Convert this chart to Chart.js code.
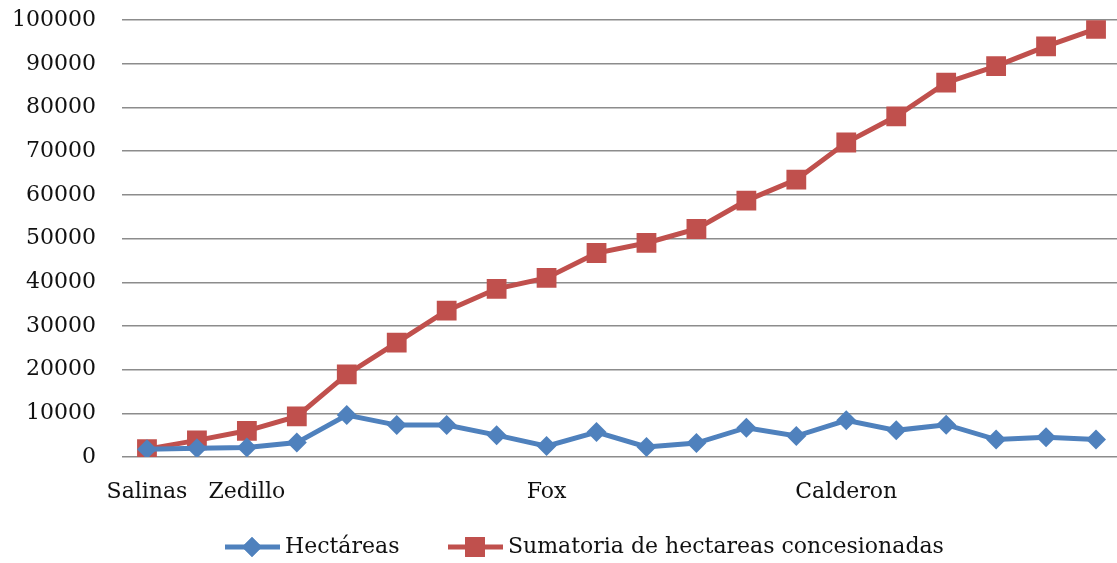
<!DOCTYPE html>
<html>
<head>
<meta charset="utf-8">
<script src="https://cdn.jsdelivr.net/npm/chart.js@4/dist/chart.umd.min.js"></script>
<style>
  html, body { margin: 0; padding: 0; background: #fff; overflow: hidden; }
  #wrap { position: absolute; left: 0; top: -19px; width: 1135px; height: 582px; }
</style>
</head>
<body>
<div id="wrap"><canvas id="chart" width="1135" height="582"></canvas></div>
<script>
// categories (only some periods carry a name)
const periods = ["Salinas", "", "Zedillo", "", "", "", "", "", "Fox", "", "", "", "", "", "Calderon", "", "", "", "", ""];

// series values
const hectareas = [1800, 2000, 2200, 3300, 9600, 7300, 7300, 5000, 2500, 5700, 2300, 3200, 6700, 4800, 8400, 6100, 7400, 4000, 4500, 4000];
const sumatoria = [1800, 3800, 6000, 9300, 18900, 26200, 33500, 38500, 41000, 46700, 49000, 52200, 58700, 63500, 72000, 78000, 85700, 89500, 94000, 98000];

const yTicks = [0, 10000, 20000, 30000, 40000, 50000, 60000, 70000, 80000, 90000, 100000];

const BLUE = "#4F81BD";
const RED = "#C0504D";
const FONT = "'DejaVu Serif', 'Liberation Serif', serif";

// legend drawn by hand: line + marker + text, like the office chart
const lineLegend = {
    id: "lineLegend",
    afterDraw(chart) {
        const ctx = chart.ctx;
        const y = chart.height - 16;
        const items = [
            { x: 225, ds: chart.data.datasets[0] },
            { x: 448, ds: chart.data.datasets[1] }
        ];
        ctx.save();
        items.forEach(it => {
            const ds = it.ds;
            ctx.strokeStyle = ds.borderColor;
            ctx.lineWidth = 5;
            ctx.beginPath();
            ctx.moveTo(it.x, y);
            ctx.lineTo(it.x + 55, y);
            ctx.stroke();
            ctx.fillStyle = ds.borderColor;
            Chart.helpers.drawPoint(ctx, {
                pointStyle: ds.pointStyle,
                radius: ds.pointRadius,
                borderWidth: 0
            }, it.x + 27, y);
            ctx.fill();
            ctx.fillStyle = "#111";
            ctx.font = "22px " + FONT;
            ctx.textBaseline = "middle";
            ctx.textAlign = "left";
            ctx.fillText(ds.label, it.x + 60, y);
        });
        ctx.restore();
    }
};

new Chart(document.getElementById("chart").getContext("2d"), {
    type: "line",
    data: {
        labels: periods,
        datasets: [
            {
                label: "Hectáreas",
                data: hectareas,
                borderColor: BLUE,
                backgroundColor: BLUE,
                borderWidth: 5,
                pointStyle: "rectRot",
                pointRadius: 10,
                pointBorderWidth: 0,
                tension: 0
            },
            {
                label: "Sumatoria de hectareas concesionadas",
                data: sumatoria,
                borderColor: RED,
                backgroundColor: RED,
                borderWidth: 5,
                pointStyle: "rect",
                pointRadius: 14,
                pointBorderWidth: 0,
                tension: 0
            }
        ]
    },
    options: {
        responsive: false,
        animation: false,
        layout: { padding: { top: 6, right: 0, bottom: 50, left: 0 } },
        plugins: {
            legend: { display: false },
            tooltip: { enabled: false }
        },
        scales: {
            x: {
                offset: true,
                grid: { display: false, drawTicks: false },
                border: { display: false },
                ticks: {
                    autoSkip: false,
                    maxRotation: 0,
                    padding: 22,
                    color: "#111",
                    font: { family: FONT, size: 22 }
                },
                afterFit(scale) { scale.height = 56; }
            },
            y: {
                min: 0,
                max: 100000,
                afterBuildTicks(scale) { scale.ticks = yTicks.map(v => ({ value: v })); },
                grid: { color: "#8c8c8c", lineWidth: 1.5, drawTicks: false },
                border: { display: false },
                ticks: {
                    padding: 26,
                    color: "#111",
                    font: { family: FONT, size: 22 },
                    callback: v => String(v)
                },
                afterFit(scale) { scale.width = 122; }
            }
        }
    },
    plugins: [lineLegend]
});
</script>
</body>
</html>
